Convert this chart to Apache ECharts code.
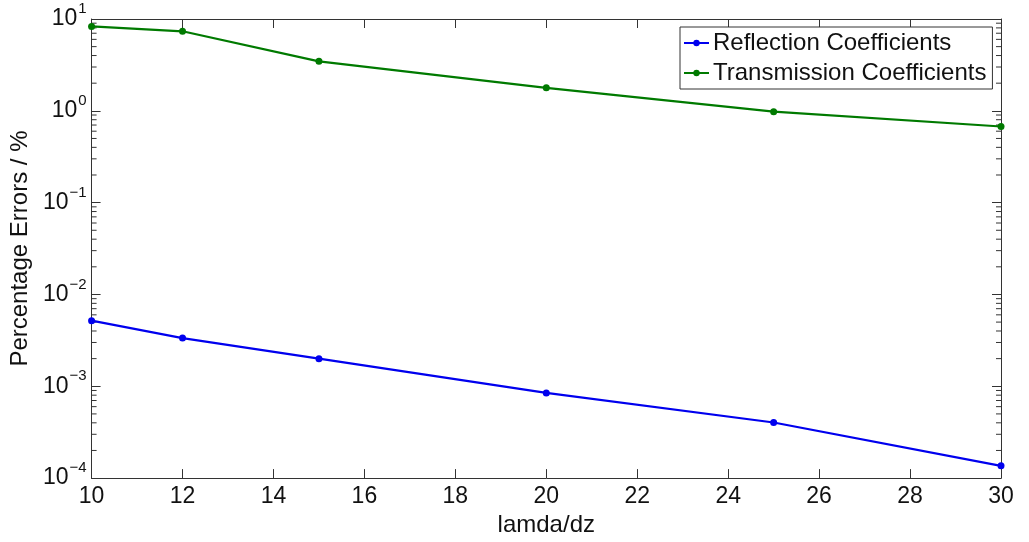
<!DOCTYPE html>
<html>
<head>
<meta charset="utf-8">
<script src="https://cdn.jsdelivr.net/npm/echarts@6/dist/echarts.min.js"></script>
<style>
html,body{margin:0;padding:0;background:#fff;}
#chart{width:1029px;height:542px;}
</style>
</head>
<body>
<div id="chart"></div>
<script>
// ---- data ----
const xValues = [10, 12, 15, 20, 25, 30];
const reflection = [0.00518, 0.00335, 0.00200, 0.000846, 0.000403, 0.000136];
const transmission = [8.3, 7.35, 3.46, 1.78, 0.98, 0.675];
const seriesNames = ['Reflection Coefficients', 'Transmission Coefficients'];
const xTickValues = [10, 12, 14, 16, 18, 20, 22, 24, 26, 28, 30];
const yDecades = [-4, -3, -2, -1, 0, 1];
const minorMultipliers = [2, 3, 4, 5, 6, 7, 8, 9];

// minor tick values for the log axis (axis decoration only)
const minorTicks = [];
for (let i = 0; i < yDecades.length - 1; i++) {
  minorMultipliers.forEach(m => minorTicks.push([10, m * Math.pow(10, yDecades[i])]));
}

const FONT = '"Liberation Sans", Arial, Helvetica, sans-serif';
const AX = '#333333';

function pair(xs, ys) { return xs.map((x, i) => [x, ys[i]]); }

function yLabel(v) {
  const e = Math.round(Math.log10(v));
  const s = e < 0 ? '\u2212' + Math.abs(e) : String(e);
  return '{b|10}{s|' + s + '}';
}

const chart = echarts.init(document.getElementById('chart'), null, {renderer: 'canvas'});

const commonX = {
  type: 'value', min: 10, max: 30, interval: 2,
  axisLine: {show: true, lineStyle: {color: AX, width: 1}},
  axisTick: {show: true, inside: true, length: 9, lineStyle: {color: AX}},
  splitLine: {show: false}
};
const commonY = {
  type: 'log', logBase: 10, min: 1e-4, max: 10, interval: 1,
  axisLine: {show: true, lineStyle: {color: AX, width: 1}},
  axisTick: {show: true, inside: true, length: 9, lineStyle: {color: AX}},
  splitLine: {show: false},
  minorTick: {show: false}
};

chart.setOption({
  animation: false,
  backgroundColor: '#ffffff',
  textStyle: {fontFamily: FONT},
  grid: {left: 88, right: 28, top: 19, bottom: 63, containLabel: false},
  legend: {
    data: seriesNames,
    orient: 'vertical',
    left: 680, top: 27,
    padding: [4, 6, 4, 3],
    itemGap: 6,
    itemWidth: 25, itemHeight: 8,
    backgroundColor: '#ffffff',
    borderColor: AX, borderWidth: 1, borderRadius: 0,
    textStyle: {fontSize: 24, color: '#111', fontFamily: FONT, padding: [0, 0, 0, -1]}
  },
  xAxis: [
    Object.assign({}, commonX, {
      position: 'bottom',
      name: 'lamda/dz', nameLocation: 'middle', nameGap: 30,
      nameTextStyle: {fontSize: 24, color: '#111', fontFamily: FONT},
      axisLabel: {show: true, margin: 7, fontSize: 23, color: '#111', fontFamily: FONT,
        formatter: v => String(v)}
    }),
    Object.assign({}, commonX, {position: 'top', axisLabel: {show: false}})
  ],
  yAxis: [
    Object.assign({}, commonY, {
      position: 'left',
      name: 'Percentage Errors / %', nameLocation: 'middle', nameGap: 55,
      nameTextStyle: {fontSize: 24, color: '#111', fontFamily: FONT},
      axisLabel: {
        show: true, margin: 5, color: '#111', fontFamily: FONT,
        formatter: yLabel,
        rich: {
          b: {fontSize: 23, fontFamily: FONT, color: '#111', verticalAlign: 'middle'},
          s: {fontSize: 15, lineHeight: 15, fontFamily: FONT, color: '#111', padding: [0, 0, 20, 1], verticalAlign: 'middle'}
        }
      }
    }),
    Object.assign({}, commonY, {position: 'right', axisLabel: {show: false}})
  ],
  series: [
    {
      type: 'custom', name: 'minorTicks', silent: true, z: 1,
      xAxisIndex: 0, yAxisIndex: 0,
      data: minorTicks,
      encode: {x: 0, y: 1},
      clip: false,
      renderItem: function (params, api) {
        const v = api.value(1);
        const pl = api.coord([10, v]);
        const pr = api.coord([30, v]);
        return {
          type: 'group',
          children: [
            {type: 'line', shape: {x1: pl[0], y1: pl[1], x2: pl[0] + 5, y2: pl[1]}, style: {stroke: AX, lineWidth: 1}},
            {type: 'line', shape: {x1: pr[0], y1: pr[1], x2: pr[0] - 5, y2: pr[1]}, style: {stroke: AX, lineWidth: 1}}
          ]
        };
      }
    },
    {
      type: 'line', name: seriesNames[0],
      data: pair(xValues, reflection),
      color: '#0000ee',
      lineStyle: {width: 2.2, color: '#0000ee'},
      symbol: 'circle', symbolSize: 7,
      itemStyle: {color: '#0000ee'},
      z: 3
    },
    {
      type: 'line', name: seriesNames[1],
      data: pair(xValues, transmission),
      color: '#007a00',
      lineStyle: {width: 2.2, color: '#007a00'},
      symbol: 'circle', symbolSize: 7,
      itemStyle: {color: '#007a00'},
      z: 3
    }
  ]
});
</script>
</body>
</html>
